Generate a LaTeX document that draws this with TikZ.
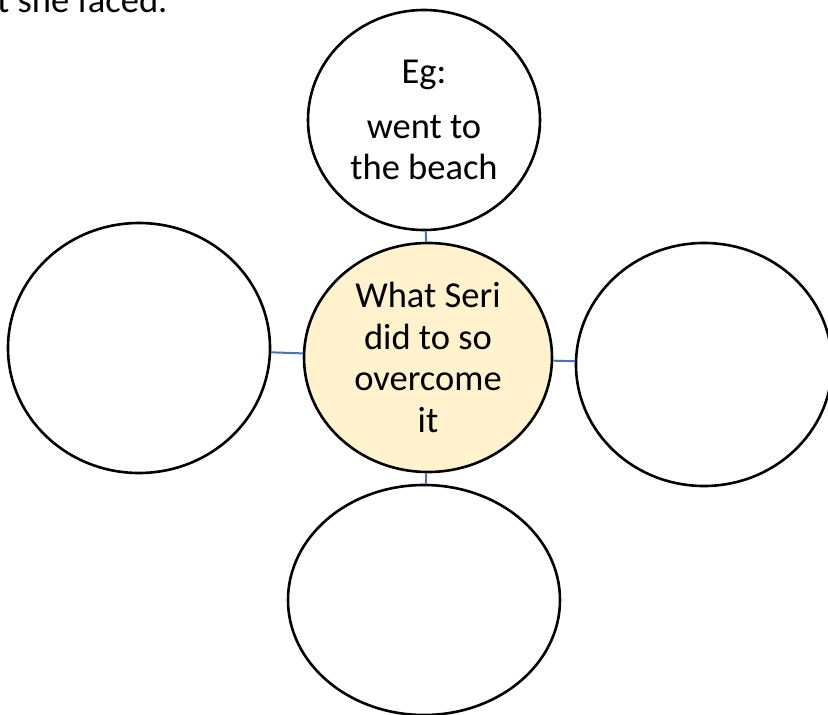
\documentclass[tikz,border=0pt]{standalone}
\usepackage{fontspec}
\setmainfont{Carlito}
\usetikzlibrary{shapes.geometric}
\definecolor{linkblue}{HTML}{4472C4}
\definecolor{hubfill}{HTML}{FFF2CC}
\tikzset{
  bubble/.style={ellipse, draw=black, line width=2.6pt, fill=white, inner sep=0pt,
    align=center, font=\fontsize{36.5}{41.5}\selectfont},
  link/.style={draw=linkblue, line width=2pt},
}
\begin{document}
\begin{tikzpicture}[x=1pt, y=-1pt]
  \useasboundingbox (0,0) rectangle (828,715);
  % tail of the sentence above the map
  \node[anchor=base west, inner sep=0pt, font=\fontsize{36.5}{41.5}\selectfont] (caption) at (-3,12.5) {t she faced.};
  % central idea
  \node[bubble, fill=hubfill, minimum width=248pt, minimum height=229pt] (hub) at (428,357.5)
    {What Seri\\did to so\\overcome\\it};
  % surrounding bubbles
  \node[bubble, minimum width=232pt, minimum height=220pt] (north) at (424,120)
    {Eg:\\[13pt]went to\\the beach};
  \node[bubble, minimum width=262pt, minimum height=250pt] (west) at (139,348) {};
  \node[bubble, minimum width=256pt, minimum height=243pt] (east) at (704,364.5) {};
  \node[bubble, minimum width=272pt, minimum height=230pt] (south) at (424,600) {};
  % connectors
  \path[link] (hub) -- (north);
  \path[link] (hub) -- (west);
  \path[link] (hub) -- (east);
  \path[link] (hub) -- (south);
\end{tikzpicture}
\end{document}
